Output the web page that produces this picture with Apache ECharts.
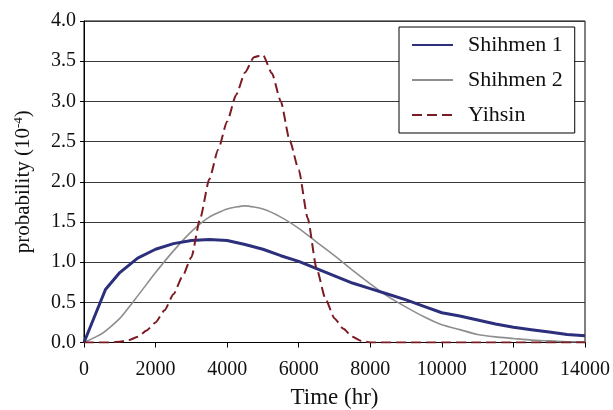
<!DOCTYPE html>
<html>
<head>
<meta charset="utf-8">
<script src="https://cdn.jsdelivr.net/npm/echarts@6/dist/echarts.min.js"></script>
<style>
html,body{margin:0;padding:0;background:#fff;}
#chart{width:613px;height:410px;}
</style>
</head>
<body>
<div id="chart"></div>
<script>
// ---- data ----
const seriesNames = ['Shihmen 1', 'Shihmen 2', 'Yihsin'];

const shihmen1Time = [0, 600, 1000, 1500, 2000, 2500, 3000, 3500, 4000, 4500, 5000, 5500, 6000, 6500, 7000, 7500, 8000, 8500, 9000, 9500, 10000, 10500, 11000, 11500, 12000, 12500, 13000, 13500, 14000];
const shihmen1Prob = [0, 0.66, 0.87, 1.05, 1.16, 1.23, 1.27, 1.28, 1.27, 1.22, 1.16, 1.08, 1.01, 0.92, 0.83, 0.74, 0.67, 0.60, 0.53, 0.45, 0.37, 0.33, 0.28, 0.23, 0.19, 0.16, 0.13, 0.10, 0.085];

const shihmen2Time = [0, 500, 1000, 1500, 2000, 2500, 3000, 3500, 4000, 4500, 5000, 5500, 6000, 6500, 7000, 7500, 8000, 8500, 9000, 9500, 10000, 10500, 11000, 11500, 12000, 12500, 13000, 13500, 14000];
const shihmen2Prob = [0, 0.11, 0.30, 0.58, 0.87, 1.14, 1.38, 1.56, 1.66, 1.70, 1.66, 1.56, 1.42, 1.25, 1.08, 0.90, 0.73, 0.57, 0.44, 0.32, 0.22, 0.16, 0.10, 0.07, 0.05, 0.03, 0.02, 0.01, 0.01];

const yihsinTime = [0, 250, 500, 750, 1000, 1250, 1500, 1750, 2000, 2250, 2500, 2750, 3000, 3250, 3500, 3750, 4000, 4250, 4500, 4750, 5000, 5250, 5500, 5750, 6000, 6250, 6500, 6750, 7000, 7250, 7500, 7750, 8000, 9000, 10000, 11000, 12000, 13000, 14000];
const yihsinProb = [0, 0, 0, 0, 0.01, 0.03, 0.07, 0.15, 0.25, 0.40, 0.60, 0.82, 1.06, 1.55, 2.03, 2.40, 2.75, 3.08, 3.36, 3.55, 3.58, 3.35, 3.00, 2.51, 2.15, 1.55, 0.92, 0.54, 0.30, 0.17, 0.07, 0.02, 0, 0, 0, 0, 0, 0, 0];

const xTicks = [0, 2000, 4000, 6000, 8000, 10000, 12000, 14000];
const yTicks = [0, 0.5, 1, 1.5, 2, 2.5, 3, 3.5, 4];

// ---- chart ----
const FONT = "'Liberation Serif', 'Times New Roman', serif";
const pairs = (xs, ys) => xs.map((x, i) => [x, ys[i]]);

const chart = echarts.init(document.getElementById('chart'), null, {renderer: 'canvas'});
chart.setOption({
  animation: false,
  backgroundColor: '#fff',
  textStyle: {fontFamily: FONT, color: '#111'},
  grid: {left: 84, right: 28, top: 21, bottom: 67.5, containLabel: false, outerBoundsMode: 'none',
         show: true, borderColor: '#000', borderWidth: 1, backgroundColor: 'transparent'},
  legend: {
    left: 399, top: 27, orient: 'vertical',
    data: seriesNames,
    itemWidth: 41, itemHeight: 14, itemGap: 9,
    padding: [5, 12, 5, 12],
    backgroundColor: '#fff', borderColor: '#000', borderWidth: 1,
    itemStyle: {opacity: 0},
    textStyle: {fontFamily: FONT, fontSize: 22, lineHeight: 26, color: '#111', padding: [0, 0, 0, 10]}
  },
  xAxis: {
    type: 'value', min: xTicks[0], max: xTicks[xTicks.length - 1], interval: 2000,
    name: 'Time (hr)', nameLocation: 'middle', nameGap: 44,
    nameTextStyle: {fontFamily: FONT, fontSize: 23, color: '#111'},
    axisLine: {show: true, lineStyle: {color: '#000', width: 1}},
    axisTick: {show: true, length: 5, lineStyle: {color: '#000'}},
    axisLabel: {fontFamily: FONT, fontSize: 20, color: '#111', margin: 17, formatter: v => String(v)},
    splitLine: {show: false}
  },
  yAxis: {
    type: 'value', min: yTicks[0], max: yTicks[yTicks.length - 1], interval: 0.5,
    name: '{a|probability (10}{s|-4}{a|)}', nameLocation: 'middle', nameGap: 50, nameRotate: 90,
    nameTextStyle: {
      fontFamily: FONT, fontSize: 21, color: '#111',
      rich: {
        a: {fontFamily: FONT, fontSize: 21, color: '#111', lineHeight: 24, verticalAlign: 'bottom'},
        s: {fontFamily: FONT, fontSize: 13, color: '#111', lineHeight: 24, verticalAlign: 'bottom', padding: [0, 0, 9, 0]}
      }
    },
    axisLine: {show: true, lineStyle: {color: '#000', width: 1}},
    axisTick: {show: true, length: 4, lineStyle: {color: '#000'}},
    axisLabel: {fontFamily: FONT, fontSize: 20, color: '#111', margin: 8, formatter: v => v.toFixed(1)},
    splitLine: {show: true, lineStyle: {color: '#3a3a3a', width: 1.2}}
  },
  series: [
    {name: seriesNames[0], type: 'line', data: pairs(shihmen1Time, shihmen1Prob), showSymbol: false, symbol: 'none', z: 3,
     lineStyle: {color: '#2c2f7c', width: 3}, itemStyle: {color: '#2c2f7c'}},
    {name: seriesNames[1], type: 'line', data: pairs(shihmen2Time, shihmen2Prob), showSymbol: false, symbol: 'none', z: 2,
     smooth: 0.2, lineStyle: {color: '#8e8e8e', width: 1.6}, itemStyle: {color: '#8e8e8e'}},
    {name: seriesNames[2], type: 'line', data: pairs(yihsinTime, yihsinProb), showSymbol: false, symbol: 'none', z: 4,
     smooth: 0.2, smoothMonotone: 'x', lineStyle: {color: '#7b1c24', width: 2, type: [10, 5]}, itemStyle: {color: '#7b1c24'}}
  ]
});
</script>
</body>
</html>
